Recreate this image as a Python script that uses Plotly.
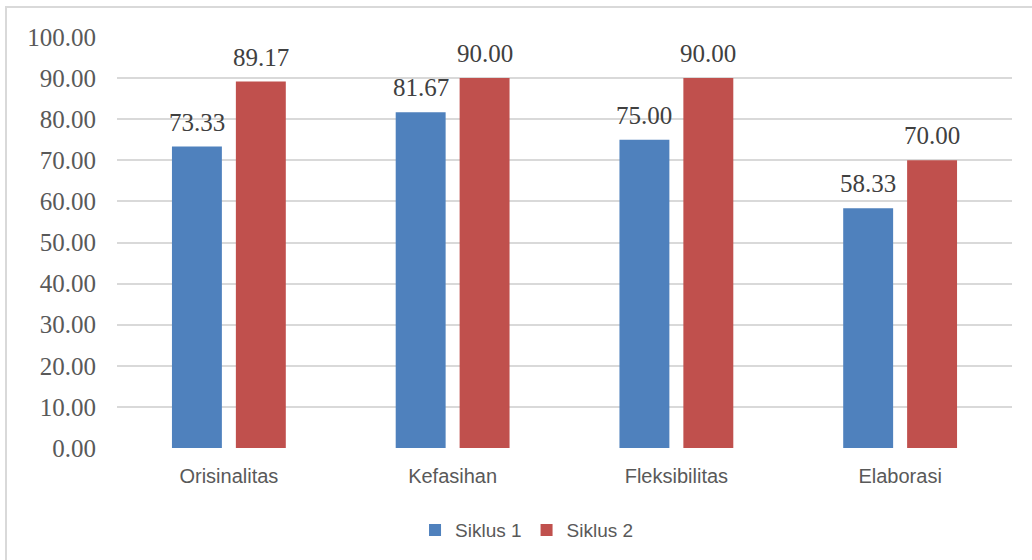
import plotly.graph_objects as go

categories = ["Orisinalitas", "Kefasihan", "Fleksibilitas", "Elaborasi"]
siklus1 = [73.33, 81.67, 75.00, 58.33]
siklus2 = [89.17, 90.00, 90.00, 70.00]
series_names = ["Siklus 1", "Siklus 2"]
y_ticks = [0, 10, 20, 30, 40, 50, 60, 70, 80, 90, 100]

BLUE = "#4f81bd"
RED = "#c0504d"
SERIF = "Liberation Serif, Times New Roman, serif"
SANS = "Liberation Sans, Arial, sans-serif"

fig = go.Figure()
fig.add_trace(go.Bar(x=categories, y=siklus1, name=series_names[0],
                     marker=dict(color=BLUE, line=dict(width=0))))
fig.add_trace(go.Bar(x=categories, y=siklus2, name=series_names[1],
                     marker=dict(color=RED, line=dict(width=0))))

annotations = []
for vals, shift in ((siklus1, -32), (siklus2, 32)):
    for c, v in zip(categories, vals):
        annotations.append(dict(x=c, y=v, xref="x", yref="y", text=f"{v:.2f}",
                                showarrow=False, yanchor="bottom", xshift=shift,
                                yshift=9, font=dict(family=SERIF, size=25, color="#404040")))

fig.update_layout(
    width=1032, height=560,
    margin=dict(l=117, r=20, t=37, b=111),
    paper_bgcolor="white", plot_bgcolor="white",
    barmode="group", bargap=0.4286, bargroupgap=0.219,
    showlegend=True,
    legend=dict(orientation="h", x=0.333, xanchor="left", y=-0.197, yanchor="middle",
                font=dict(family=SANS, size=19, color="#595959"),
                itemwidth=30, traceorder="normal"),
    annotations=annotations,
    shapes=[dict(type="rect", xref="paper", yref="paper",
                 x0=(6 - 117) / 895, x1=(1045 - 117) / 895,
                 y0=(449 - 575) / 412, y1=(449 - 7) / 412,
                 line=dict(color="#d9d9d9", width=2), fillcolor="rgba(0,0,0,0)", layer="below")],
)
fig.update_yaxes(range=[0, 100], tickvals=y_ticks, tickformat=".2f",
                 showgrid=True, gridcolor="#d9d9d9", gridwidth=1.5,
                 zeroline=False, showline=False, ticks="",
                 ticklabelstandoff=20,
                 tickfont=dict(family=SERIF, size=25, color="#595959"))
fig.update_xaxes(showgrid=False, showline=False, ticks="", ticklabelstandoff=14,
                 tickfont=dict(family=SANS, size=20, color="#595959"))

fig.write_html("out.html", config={"displayModeBar": False},
               post_script="document.body.style.margin='0';")
